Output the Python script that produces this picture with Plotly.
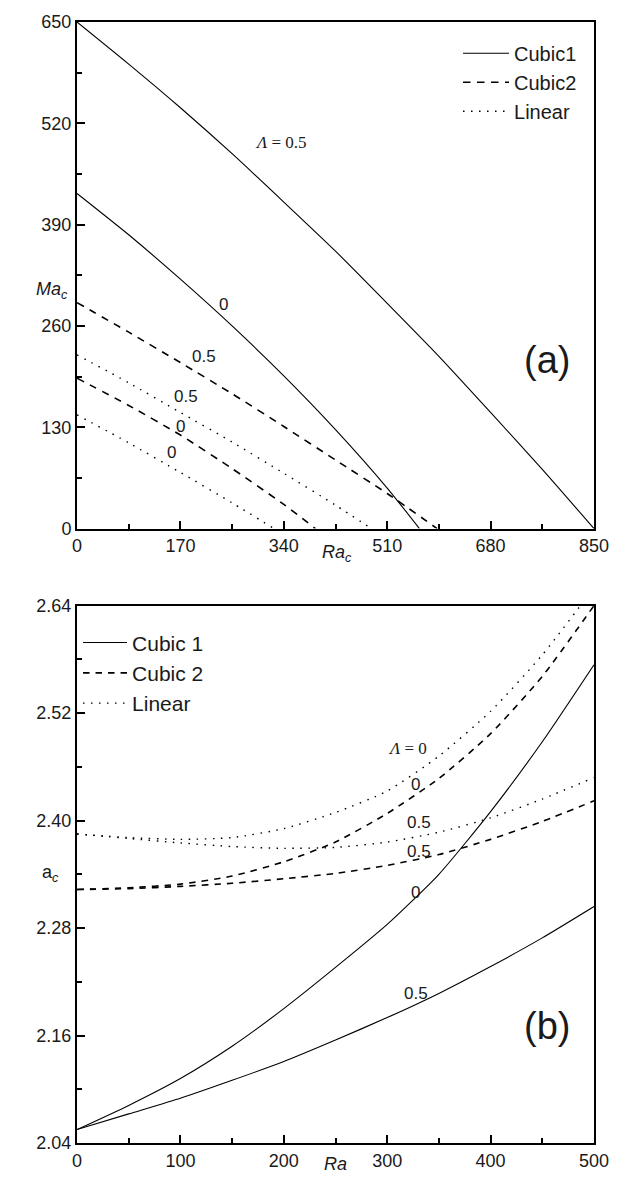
import plotly.graph_objects as go

# ---------------- Panel (a): Ma_c vs Ra_c ----------------
ra_c1_l05 = [0, 85, 170, 255, 340, 425, 510, 595, 680, 765, 850]
ma_c1_l05 = [650, 596, 540, 481, 419, 356, 289, 221, 149, 76, 0]
ra_c1_l0 = [0, 85, 170, 255, 340, 425, 510, 563]
ma_c1_l0 = [430, 377, 320, 260, 196, 127, 52, 0]
ra_c2_l05 = [0, 85, 170, 255, 340, 425, 510, 592]
ma_c2_l05 = [290, 252, 213, 173, 131, 88, 45, 0]
ra_c2_l0 = [0, 85, 170, 255, 340, 392]
ma_c2_l0 = [193, 158, 120, 77, 31, 0]
ra_lin_l05 = [0, 85, 170, 255, 340, 425, 484]
ma_lin_l05 = [223, 187, 149, 111, 71, 30, 0]
ra_lin_l0 = [0, 85, 170, 255, 324]
ma_lin_l0 = [146, 110, 72, 33, 0]

xa_ticks = [0, 170, 340, 510, 680, 850]
ya_ticks = [0, 130, 260, 390, 520, 650]

# ---------------- Panel (b): a_c vs Ra ----------------
ra_b = [0, 50, 100, 150, 200, 250, 300, 350, 400, 450, 500]
ac_c1_l0 = [2.055, 2.082, 2.112, 2.148, 2.190, 2.236, 2.284, 2.340, 2.410, 2.488, 2.574]
ac_c1_l05 = [2.055, 2.0725, 2.090, 2.110, 2.131, 2.155, 2.180, 2.207, 2.237, 2.269, 2.304]
ac_c2_l0 = [2.323, 2.325, 2.329, 2.338, 2.354, 2.376, 2.408, 2.447, 2.497, 2.561, 2.640]
ac_c2_l05 = [2.323, 2.324, 2.3265, 2.330, 2.335, 2.341, 2.350, 2.362, 2.379, 2.399, 2.422]
ac_lin_l0 = [2.385, 2.381, 2.379, 2.381, 2.391, 2.409, 2.433, 2.472, 2.522, 2.585, 2.660]
ac_lin_l05 = [2.385, 2.380, 2.375, 2.371, 2.369, 2.370, 2.376, 2.387, 2.403, 2.424, 2.448]

xb_ticks = [0, 100, 200, 300, 400, 500]
yb_ticks = [2.04, 2.16, 2.28, 2.40, 2.52, 2.64]

SANS = "Arial, Liberation Sans, Helvetica, sans-serif"
SERIF = "Times New Roman, Liberation Serif, serif"
INK = "#1a1a1a"
SOLID = "solid"
DASH_A = "7.5px,6.5px"
DASH_B = "6.5px,6px"
DOT = "1.5px,6.5px"

fig = go.Figure()

def add(x, y, dash, name, xa, ya, legend, show, width=1.1):
    fig.add_trace(go.Scatter(
        x=x, y=y, mode="lines", name=name, xaxis=xa, yaxis=ya,
        line=dict(color="black", width=width, dash=dash, shape="spline", smoothing=0.6),
        showlegend=show, legend=legend, hoverinfo="skip"))

# panel a
add(ra_c1_l05, ma_c1_l05, SOLID, "Cubic1", "x", "y", "legend", True)
add(ra_c1_l0, ma_c1_l0, SOLID, "Cubic1", "x", "y", "legend", False)
add(ra_c2_l05, ma_c2_l05, DASH_A, "Cubic2", "x", "y", "legend", True, 1.6)
add(ra_c2_l0, ma_c2_l0, DASH_A, "Cubic2", "x", "y", "legend", False, 1.6)
add(ra_lin_l05, ma_lin_l05, DOT, "Linear", "x", "y", "legend", True, 1.4)
add(ra_lin_l0, ma_lin_l0, DOT, "Linear", "x", "y", "legend", False, 1.4)

# panel b
add(ra_b, ac_c1_l0, SOLID, "Cubic 1", "x2", "y2", "legend2", True)
add(ra_b, ac_c1_l05, SOLID, "Cubic 1", "x2", "y2", "legend2", False)
add(ra_b, ac_c2_l0, DASH_B, "Cubic 2", "x2", "y2", "legend2", True, 1.6)
add(ra_b, ac_c2_l05, DASH_B, "Cubic 2", "x2", "y2", "legend2", False, 1.6)
add(ra_b, ac_lin_l0, DOT, "Linear", "x2", "y2", "legend2", True, 1.4)
add(ra_b, ac_lin_l05, DOT, "Linear", "x2", "y2", "legend2", False, 1.4)

def axis(rng, ticks, minor_dtick, minor_tick0, domain, anchor, fmt=None):
    d = dict(range=rng, tickvals=ticks, ticks="inside", ticklen=8, tickwidth=1.5,
             tickcolor="black", showline=True, linewidth=2, linecolor="black",
             mirror=True, showgrid=False, zeroline=False, anchor=anchor,
             tickfont=dict(family=SANS, size=18, color=INK),
             minor=dict(ticks="inside", ticklen=5, tickwidth=1.5, tickcolor="black",
                        dtick=minor_dtick, tick0=minor_tick0, showgrid=False),
             fixedrange=True)
    if domain is not None:
        d["domain"] = domain
    if fmt:
        d["tickformat"] = fmt
    return d

# plot area: x 77..594, y 17..1156
ydom_a = [0.5481, 1.0]
ydom_b = [0.0, 0.4794]

fig.update_layout(
    width=622, height=1183,
    margin=dict(l=77, r=28, t=17, b=27),
    plot_bgcolor="white", paper_bgcolor="white",
    xaxis=axis([0, 850], xa_ticks, 85, 0, None, "y"),
    yaxis=axis([0, 650], ya_ticks, 65, 0, ydom_a, "x"),
    xaxis2=axis([0, 500], xb_ticks, 50, 0, None, "y2"),
    yaxis2=axis([2.04, 2.64], yb_ticks, 0.06, 2.04, ydom_b, "x2", ".2f"),
    legend=dict(x=0.737, y=0.9895, xanchor="left", yanchor="top", bgcolor="rgba(0,0,0,0)",
                font=dict(family=SANS, size=20, color=INK), itemwidth=46,
                tracegroupgap=0),
    legend2=dict(x=0.002, y=0.4644, xanchor="left", yanchor="top", bgcolor="rgba(0,0,0,0)",
                 font=dict(family=SANS, size=21, color=INK), itemwidth=44,
                 tracegroupgap=0),
    showlegend=True,
)

def note(text, x, y, xref, yref, size=17, family=SANS, **kw):
    fig.add_annotation(text=text, x=x, y=y, xref=xref, yref=yref, showarrow=False,
                       font=dict(family=family, size=size, color=INK), **kw)

# panel a labels
note("<i>Λ</i> = 0.5", 336, 496, "x", "y", size=17, family=SERIF)
note("0", 241, 288, "x", "y")
note("0.5", 209, 221, "x", "y")
note("0.5", 180, 169, "x", "y")
note("0", 170, 131, "x", "y")
note("0", 155, 98, "x", "y")
note("(a)", 773, 216, "x", "y", size=38)
note("<i>Ma</i><sub><i>c</i></sub>", -0.083, 0.47, "x domain", "y domain", size=18)
note("<i>Ra</i><sub><i>c</i></sub>", 428, -0.022, "x", "y domain", size=18, yanchor="top")

# panel b labels
note("<i>Λ</i> = 0", 320, 2.481, "x2", "y2", size=17, family=SERIF)
note("0", 327, 2.440, "x2", "y2")
note("0.5", 331, 2.398, "x2", "y2")
note("0.5", 331, 2.365, "x2", "y2")
note("0", 327, 2.320, "x2", "y2")
note("0.5", 328, 2.207, "x2", "y2")
note("(b)", 455, 2.171, "x2", "y2", size=38)
note("a<sub><i>c</i></sub>", -0.072, 0.502, "x2 domain", "y2 domain", size=18)
note("<i>Ra</i>", 250, -0.017, "x2", "y2 domain", size=18, yanchor="top")

fig.write_html("out.html")
